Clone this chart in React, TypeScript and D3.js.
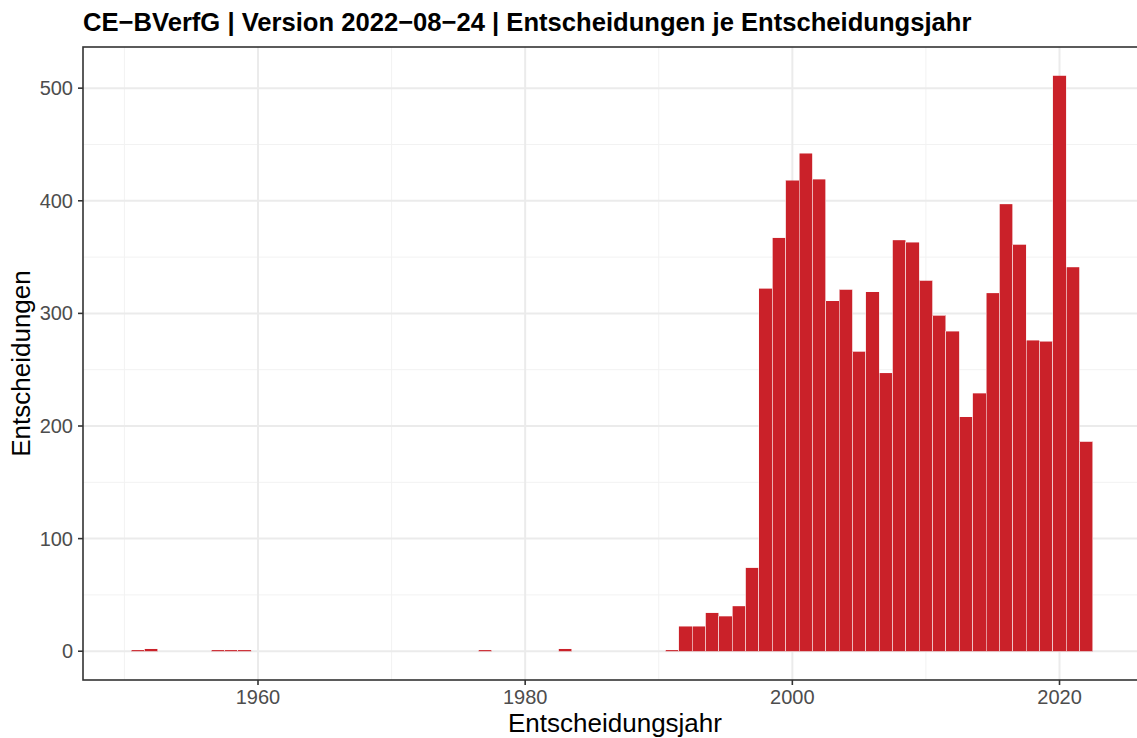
import React from "react";
import * as d3 from "d3";

const years = [1951, 1952, 1957, 1958, 1959, 1977, 1983,
  1991, 1992, 1993, 1994, 1995, 1996, 1997, 1998, 1999, 2000, 2001, 2002, 2003, 2004,
  2005, 2006, 2007, 2008, 2009, 2010, 2011, 2012, 2013, 2014, 2015, 2016, 2017, 2018,
  2019, 2020, 2021, 2022];
const counts = [1, 2, 1, 1, 1, 1, 2,
  1, 22, 22, 34, 31, 40, 74, 322, 367, 418, 442, 419, 311, 321,
  266, 319, 247, 365, 363, 329, 298, 284, 208, 229, 318, 397, 361, 276,
  275, 511, 341, 186];
const xMajor = [1960, 1980, 2000, 2020];
const xMinor = [1950, 1970, 1990, 2010];
const yMajor = [0, 100, 200, 300, 400, 500];
const yMinor = [50, 150, 250, 350, 450];
const title = "CE\u2212BVerfG | Version 2022\u221208\u221224 | Entscheidungen je Entscheidungsjahr";
const xTitle = "Entscheidungsjahr";
const yTitle = "Entscheidungen";

const W = 1137, H = 738;
const left = 83, right = 1141, top = 47, bottom = 680;
const font = "'Liberation Sans', Arial, Helvetica, sans-serif";

export default function App() {
  const binLo = d3.min(years)! - 0.5;
  const binHi = d3.max(years)! + 0.5;
  const xPad = (binHi - binLo) * 0.05;
  const x = d3.scaleLinear().domain([binLo - xPad, binHi + xPad]).range([left, right]);
  const yMax = d3.max(counts)!;
  const yPad = yMax * 0.05;
  const y = d3.scaleLinear().domain([-yPad, yMax + yPad]).range([bottom, top]);

  return (
    <div style={{ position: "fixed", left: 0, top: 0 }}>
      <svg width={W} height={H} style={{ display: "block", background: "#fff" }} fontFamily={font}>
        <rect x={0} y={0} width={W} height={H} fill="#fff" />
        {/* minor grid */}
        {xMinor.map((v) => (
          <line key={"xm" + v} x1={x(v)} x2={x(v)} y1={top} y2={bottom} stroke="#F2F2F2" strokeWidth={1} />
        ))}
        {yMinor.map((v) => (
          <line key={"ym" + v} x1={left} x2={right} y1={y(v)} y2={y(v)} stroke="#F2F2F2" strokeWidth={1} />
        ))}
        {/* major grid */}
        {xMajor.map((v) => (
          <line key={"xM" + v} x1={x(v)} x2={x(v)} y1={top} y2={bottom} stroke="#EBEBEB" strokeWidth={2} />
        ))}
        {yMajor.map((v) => (
          <line key={"yM" + v} x1={left} x2={right} y1={y(v)} y2={y(v)} stroke="#EBEBEB" strokeWidth={2} />
        ))}
        {/* bars */}
        {years.map((yr, i) => {
          const x0 = x(yr - 0.5), x1 = x(yr + 0.5);
          const yt = y(counts[i]), yb = y(0);
          return (
            <g key={yr}>
              <rect x={x0} width={x1 - x0} y={yt} height={yb - yt} fill="#CA2129" />
              <path
                d={`M${x0},${yb}V${yt}M${x1},${yt}V${yb}`}
                stroke="#FFFFFF"
                strokeWidth={0.5}
                fill="none"
                shapeRendering="crispEdges"
              />
            </g>
          );
        })}
        {/* panel border */}
        <rect x={left} y={top} width={right - left} height={bottom - top} fill="none" stroke="#333333" strokeWidth={1.6} />
        {/* y ticks */}
        {yMajor.map((v) => (
          <g key={"yt" + v} transform={`translate(0,${y(v)})`}>
            <line x1={left - 5} x2={left} stroke="#333333" strokeWidth={1.6} />
            <text x={left - 10} dy="0.35em" textAnchor="end" fontSize={20} fill="#4D4D4D">{v}</text>
          </g>
        ))}
        {/* x ticks */}
        {xMajor.map((v) => (
          <g key={"xt" + v} transform={`translate(${x(v)},0)`}>
            <line y1={bottom} y2={bottom + 5} stroke="#333333" strokeWidth={1.6} />
            <text y={704} textAnchor="middle" fontSize={20} fill="#4D4D4D">{v}</text>
          </g>
        ))}
        {/* axis titles */}
        <text x={615} y={732} textAnchor="middle" fontSize={26} fill="#000">{xTitle}</text>
        <text transform={`translate(29.5,${(top + bottom) / 2}) rotate(-90)`} textAnchor="middle" fontSize={26} fill="#000">{yTitle}</text>
        {/* title */}
        <text x={left} y={31} fontSize={25.6} fontWeight="bold" fill="#000">{title}</text>
      </svg>
    </div>
  );
}
